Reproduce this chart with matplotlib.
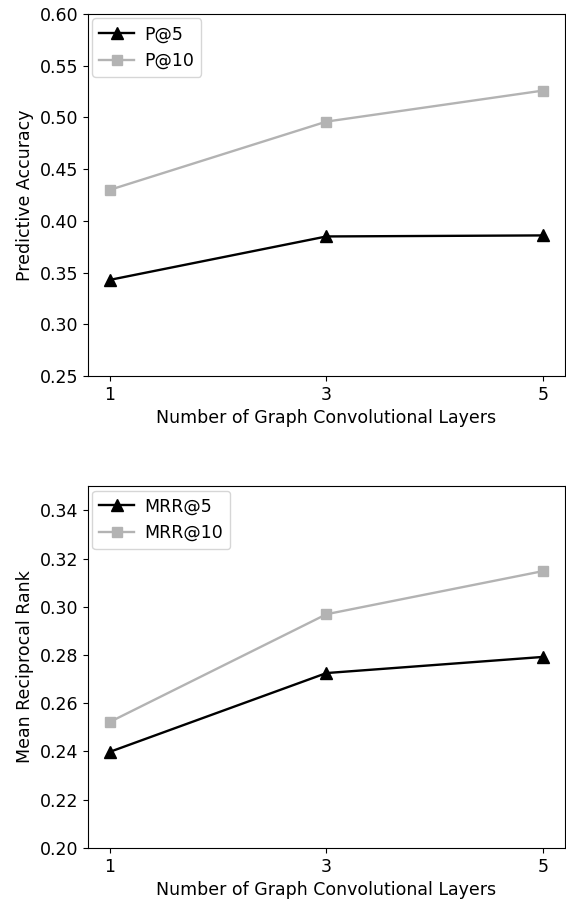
import numpy as np
import matplotlib
matplotlib.use('Agg')
import matplotlib.pyplot as plt

layers = [1, 3, 5]
p5 = [0.343, 0.385, 0.386]
p10 = [0.430, 0.496, 0.526]
mrr5 = [0.2398, 0.2725, 0.2792]
mrr10 = [0.2522, 0.2969, 0.3148]

grey = '#b3b3b3'
plt.rcParams['font.size'] = 12.5

fig = plt.figure(figsize=(5.66, 9.02), dpi=100)
ax1 = fig.add_axes([0.1555, 0.583, 0.8425, 0.4015])
ax2 = fig.add_axes([0.1555, 0.060, 0.8425, 0.401])

# top: predictive accuracy
ax1.plot(layers, p5, color='black', marker='^', markersize=8, linewidth=1.7, label='P@5')
ax1.plot(layers, p10, color=grey, marker='s', markersize=7, linewidth=1.7, label='P@10')
ax1.set_ylim(0.25, 0.60)
ax1.set_xticks(layers)
ax1.set_ylabel('Predictive Accuracy')
ax1.set_xlabel('Number of Graph Convolutional Layers')
ax1.legend(loc='upper left', borderaxespad=0.25, handletextpad=0.6)

# bottom: MRR
ax2.plot(layers, mrr5, color='black', marker='^', markersize=8, linewidth=1.7, label='MRR@5')
ax2.plot(layers, mrr10, color=grey, marker='s', markersize=7, linewidth=1.7, label='MRR@10')
ax2.set_ylim(0.20, 0.35)
ax2.set_yticks(np.arange(0.20, 0.345, 0.02))
ax2.set_xticks(layers)
ax2.set_ylabel('Mean Reciprocal Rank')
ax2.set_xlabel('Number of Graph Convolutional Layers')
ax2.legend(loc='upper left', borderaxespad=0.25, handletextpad=0.6)

fig.savefig('out.png', dpi=100)
